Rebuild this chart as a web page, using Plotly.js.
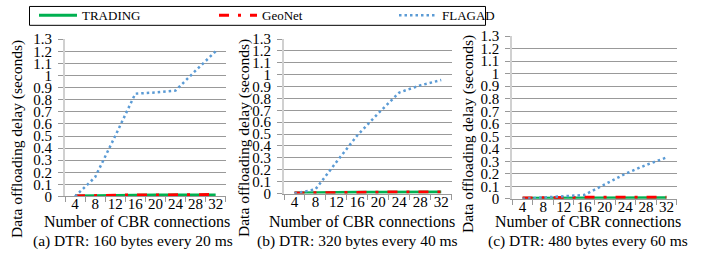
<!DOCTYPE html>
<html>
<head>
<meta charset="utf-8">
<script src="https://cdn.plot.ly/plotly-3.0.1.min.js"></script>
<style>html,body{margin:0;padding:0;background:#fff;}#chart{width:704px;height:261px;}</style>
</head>
<body>
<div id="chart"></div>
<script>
// ---- data ----
const cbrConnections = [4, 8, 12, 16, 20, 24, 28, 32];
const seriesNames = ['TRADING', 'GeoNet', 'FLAGAD'];

const tradingA = [0.005, 0.008, 0.012, 0.012, 0.012, 0.012, 0.013, 0.013];
const geonetA  = [0.004, 0.007, 0.016, 0.013, 0.012, 0.015, 0.014, 0.016];
const flagadA  = [0, 0.16, 0.5, 0.85, 0.86, 0.875, 1.04, 1.2];

const tradingB = [0.004, 0.008, 0.010, 0.011, 0.011, 0.012, 0.012, 0.012];
const geonetB  = [0.004, 0.006, 0.012, 0.012, 0.012, 0.013, 0.012, 0.013];
const flagadB  = [0, 0.035, 0.265, 0.49, 0.675, 0.85, 0.91, 0.955];

const tradingC = [0.005, 0.006, 0.007, 0.008, 0.008, 0.009, 0.009, 0.009];
const geonetC  = [0.006, 0.006, 0.008, 0.012, 0.013, 0.012, 0.012, 0.013];
const flagadC  = [0, 0.009, 0.018, 0.03, 0.115, 0.2, 0.27, 0.33];

const yTickVals = [0, 0.1, 0.2, 0.3, 0.4, 0.5, 0.6, 0.7, 0.8, 0.9, 1, 1.1, 1.2, 1.3];
const yTickText = ['0', '0.1', '0.2', '0.3', '0.4', '0.5', '0.6', '0.7', '0.8', '0.9', '1', '1.1', '1.2', '1.3'];
const xTickText = ['4', '8', '12', '16', '20', '24', '28', '32'];

const yTitle = 'Data offloading delay (seconds)';
const xTitle = 'Number of CBR connections';
const captions = ['(a) DTR: 160 bytes every 20 ms', '(b) DTR: 320 bytes every 40 ms', '(c) DTR: 480 bytes every 60 ms'];

// ---- styles ----
const W = 704, H = 261;
const FONT = '"Liberation Serif", "Times New Roman", serif';
const colors = ['#00b050', '#ff0000', '#5b9bd5'];
const lineStyles = [
  {color: colors[0], width: 3},
  {color: colors[1], width: 3, dash: '10px,9px,3px,9px'},
  {color: colors[2], width: 2.5, dash: '2.5px,3px'}
];

const panels = [
  {l: 65, r: 225.7, b: 196, t: 37.5, data: [tradingA, geonetA, flagadA], yt: 17, ytc: 138, xt: 137, cap: 133},
  {l: 284, r: 451.7, b: 193, t: 37.3, data: [tradingB, geonetB, flagadB], yt: 244, ytc: 137, xt: 361.5, cap: 357.5},
  {l: 512.3, r: 676.7, b: 198.3, t: 34.5, data: [tradingC, geonetC, flagadC], yt: 468, ytc: 133, xt: 588, cap: 588}
];

const bounds = cbrConnections.map(v => v - 2).concat([cbrConnections[cbrConnections.length - 1] + 2]);

const traces = [];
const layout = {
  width: W, height: H,
  margin: {l: 0, r: 0, t: 0, b: 0},
  paper_bgcolor: '#fff', plot_bgcolor: '#fff',
  font: {family: FONT, color: '#000', size: 15},
  showlegend: true,
  legend: {
    orientation: 'h', x: 34 / W, xanchor: 'left', y: 1 - 13.5 / H, yanchor: 'middle',
    bgcolor: 'rgba(0,0,0,0)', borderwidth: 0, font: {family: FONT, size: 13, color: '#000'},
    entrywidth: 127, traceorder: 'normal', itemclick: false, itemwidth: 38
  },
  shapes: [{
    type: 'rect', xref: 'paper', yref: 'paper',
    x0: 29.5 / W, x1: 485.5 / W, y0: 1 - 23.5 / H, y1: 1 - 4.5 / H,
    line: {color: '#000', width: 1}, fillcolor: 'rgba(0,0,0,0)'
  }],
  annotations: []
};

panels.forEach((p, i) => {
  const n = i === 0 ? '' : String(i + 1);
  p.data.forEach((ys, k) => {
    traces.push({
      type: 'scatter', mode: 'lines',
      x: cbrConnections, y: ys,
      xaxis: 'x' + n, yaxis: 'y' + n,
      name: seriesNames[k], legendgroup: seriesNames[k],
      showlegend: i === 0,
      line: lineStyles[k], hoverinfo: 'skip'
    });
  });
  layout['xaxis' + n] = {
    domain: [p.l / W, p.r / W], anchor: 'y' + n,
    range: [bounds[0], bounds[bounds.length - 1]],
    tickmode: 'array', tickvals: cbrConnections, ticktext: xTickText,
    ticks: '', showgrid: false, zeroline: false,
    showline: true, linecolor: '#999', linewidth: 1,
    ticklabelstandoff: -6,
    tickfont: {family: FONT, size: 15, color: '#000'},
    minor: {tickmode: 'array', tickvals: bounds, ticks: 'outside', ticklen: 5, tickcolor: '#999', tickwidth: 1, showgrid: false},
    fixedrange: true
  };
  layout['yaxis' + n] = {
    domain: [1 - p.b / H, 1 - p.t / H], anchor: 'x' + n,
    range: [0, 1.3],
    tickmode: 'array', tickvals: yTickVals, ticktext: yTickText,
    ticks: 'outside', ticklen: 5, tickcolor: '#999', tickwidth: 1,
    ticklabelstandoff: 3,
    showgrid: true, gridcolor: '#999', gridwidth: 1, zeroline: false,
    showline: true, linecolor: '#d0d0d0', linewidth: 2,
    tickfont: {family: FONT, size: 15, color: '#000'},
    fixedrange: true
  };
  layout.annotations.push({
    xref: 'paper', yref: 'paper', x: p.yt / W, y: 1 - p.ytc / H,
    text: yTitle, textangle: -90, showarrow: false,
    xanchor: 'center', yanchor: 'middle', font: {family: FONT, size: 15.5, color: '#000'}
  });
  layout.annotations.push({
    xref: 'paper', yref: 'paper', x: p.xt / W, y: 1 - 221 / H,
    text: xTitle, showarrow: false,
    xanchor: 'center', yanchor: 'middle', font: {family: FONT, size: 16, color: '#000'}
  });
  layout.annotations.push({
    xref: 'paper', yref: 'paper', x: p.cap / W, y: 1 - 241 / H,
    text: captions[i], showarrow: false,
    xanchor: 'center', yanchor: 'middle', font: {family: FONT, size: 15.5, color: '#000'}
  });
});

Plotly.newPlot('chart', traces, layout, {staticPlot: true, displayModeBar: false});
</script>
</body>
</html>
